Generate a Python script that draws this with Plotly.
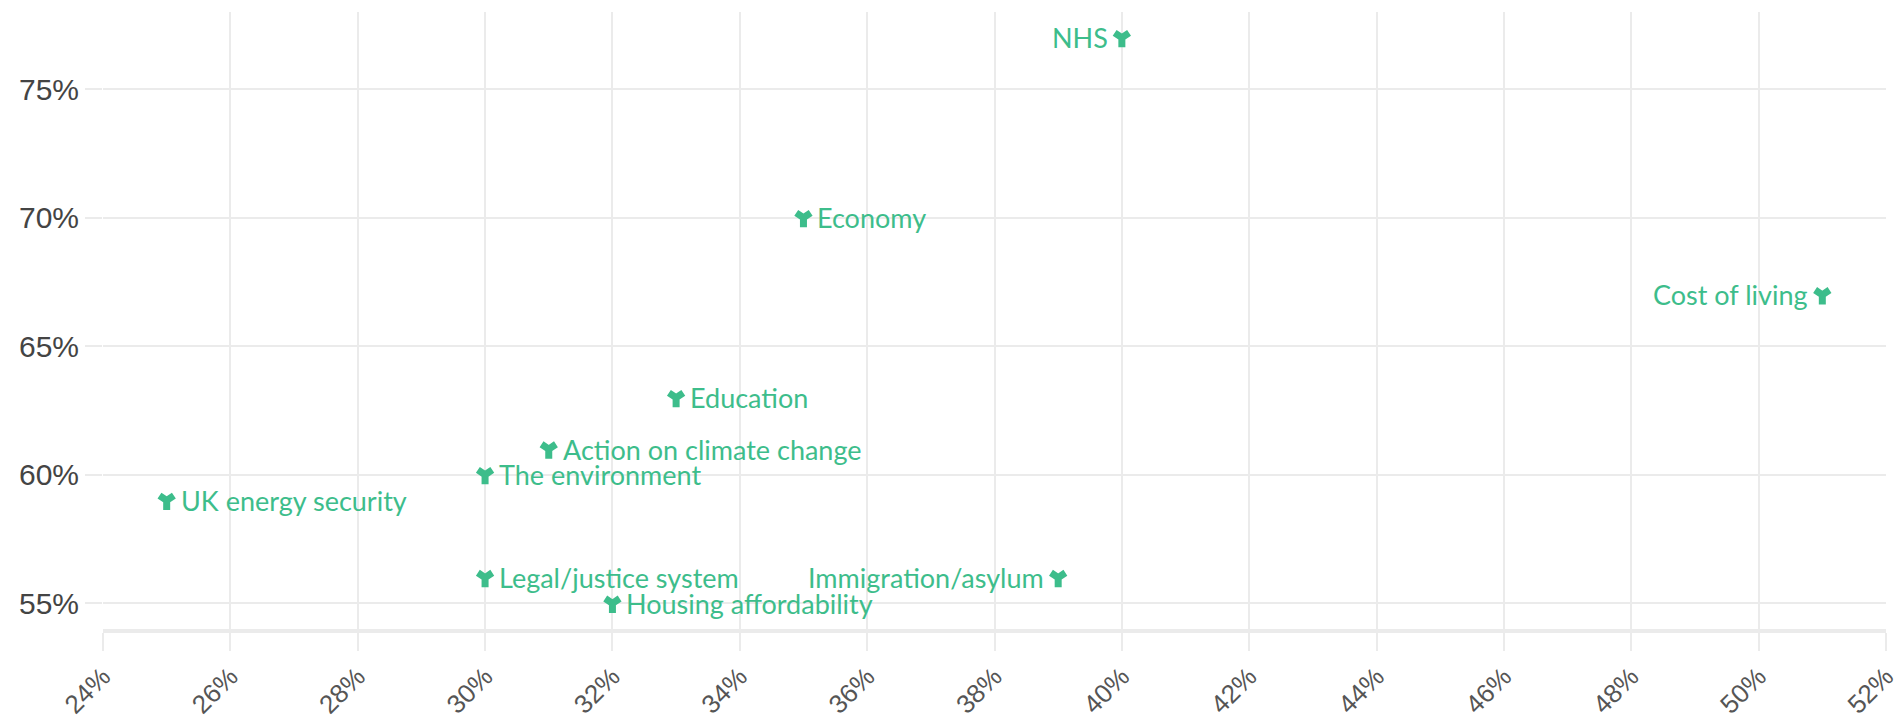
import plotly.graph_objects as go

issues = ["NHS", "Economy", "Cost of living", "Education", "Action on climate change",
          "The environment", "UK energy security", "Legal/justice system",
          "Immigration/asylum", "Housing affordability"]
x_vals = [40, 35, 51, 33, 31, 30, 25, 30, 39, 32]
y_vals = [77, 70, 67, 63, 61, 60, 59, 56, 56, 55]
label_side = ["left", "right", "left", "right", "right",
              "right", "right", "right", "left", "right"]
x_ticks = list(range(24, 53, 2))
y_ticks = [55, 60, 65, 70, 75]

green = "#3dbd8b"
grid = "#ebebeb"

fig = go.Figure(go.Scatter(
    x=x_vals, y=y_vals, mode="markers",
    marker=dict(symbol="y-down", size=12, color=green,
                line=dict(color=green, width=7)),
    cliponaxis=False, hoverinfo="skip",
))

for name, xv, yv, side in zip(issues, x_vals, y_vals, label_side):
    fig.add_annotation(
        x=xv, y=yv, xref="x", yref="y", text=name, showarrow=False,
        xanchor="left" if side == "right" else "right", yanchor="middle",
        xshift=12 if side == "right" else -12,
        font=dict(family="Lato", size=27, color=green),
    )

fig.update_layout(
    width=1903, height=717,
    margin=dict(l=103, r=17, t=12, b=88),
    paper_bgcolor="white", plot_bgcolor="white",
    showlegend=False,
    xaxis=dict(range=[24, 52], tickvals=x_ticks, ticktext=[f"{v}%" for v in x_ticks],
               tickangle=-45, showgrid=True, gridcolor=grid, gridwidth=2,
               ticks="outside", ticklen=18, tickcolor=grid, tickwidth=2,
               showline=True, linecolor=grid, linewidth=4, zeroline=False,
               automargin=False,
               tickfont=dict(family="Liberation Sans", size=26, color="#555")),
    yaxis=dict(range=[54, 78], tickvals=y_ticks, ticktext=[f"{v}%" for v in y_ticks],
               showgrid=True, gridcolor=grid, gridwidth=2,
               ticks="outside", ticklen=17, tickcolor=grid, tickwidth=2,
               showline=False, zeroline=False, automargin=False,
               tickfont=dict(family="Liberation Sans", size=30, color="#444")),
)

fig.write_html("out.html", config={"displayModeBar": False},
               post_script="document.body.style.margin='0';document.body.style.overflow='hidden';")
